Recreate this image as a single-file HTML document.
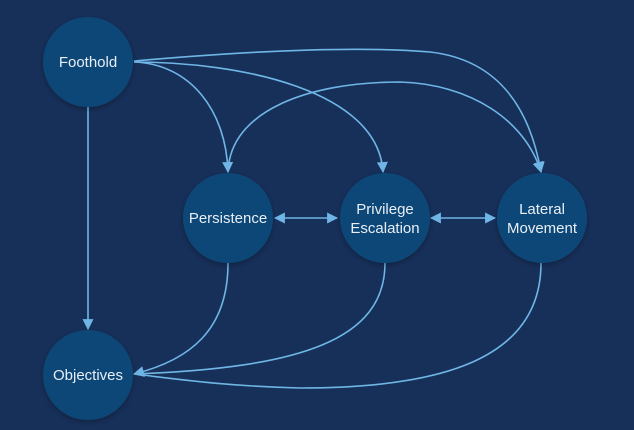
<!DOCTYPE html>
<html><head><style>
html,body{margin:0;padding:0;background:#17305a;}
svg{display:block}
text{font-family:"Liberation Sans",sans-serif;font-size:15px;fill:#e8eef5;text-anchor:middle}
</style></head><body>
<svg width="634" height="430" viewBox="0 0 634 430">
<defs>
<marker id="a" viewBox="0 0 10 10" refX="9" refY="5" markerWidth="13" markerHeight="11" markerUnits="userSpaceOnUse" orient="auto-start-reverse">
<path d="M0,0 L10,5 L0,10 z" fill="#6fb6e6"/></marker>
<filter id="s" x="-20%" y="-20%" width="140%" height="140%"><feDropShadow dx="0" dy="2" stdDeviation="3" flood-color="#000" flood-opacity="0.3"/></filter>
</defs>
<rect width="634" height="430" fill="#17305a"/>
<g fill="none" stroke="#6fb6e6" stroke-width="1.6">
<path d="M88,107 L88,329" marker-end="url(#a)"/>
<path d="M134,62 C190,64 226,110 228,172" marker-end="url(#a)"/>
<path d="M134,62 C240,62 378,90 383,172" marker-end="url(#a)"/>
<path d="M134,61 C260,50 360,46 430,52 C500,60 530,110 541,172" marker-end="url(#a)"/>
<path d="M228,172 C230,110 310,82 400,82 C470,84 525,120 541,172" marker-end="url(#a)"/>
<path d="M275,218 L337,218" marker-start="url(#a)" marker-end="url(#a)"/>
<path d="M431,218 L495,218" marker-start="url(#a)" marker-end="url(#a)"/>
<path d="M228,263 C228,330 190,360 134,374" marker-end="url(#a)"/>
<path d="M385,263 C385,340 300,368 134,374"/>
<path d="M541,263 C541,360 440,388 300,388 C220,386 170,378 134,374"/>
</g>
<g fill="#0b4777" filter="url(#s)">
<circle cx="88" cy="62" r="45"/>
<circle cx="228" cy="218" r="45"/>
<circle cx="385" cy="218" r="45"/>
<circle cx="542" cy="218" r="45"/>
<circle cx="88" cy="375" r="45"/>
</g>
<text x="88" y="67">Foothold</text>
<text x="228" y="223">Persistence</text>
<text x="385" y="214">Privilege</text>
<text x="385" y="233">Escalation</text>
<text x="542" y="214">Lateral</text>
<text x="542" y="233">Movement</text>
<text x="88" y="380">Objectives</text>
</svg>
</body></html>
